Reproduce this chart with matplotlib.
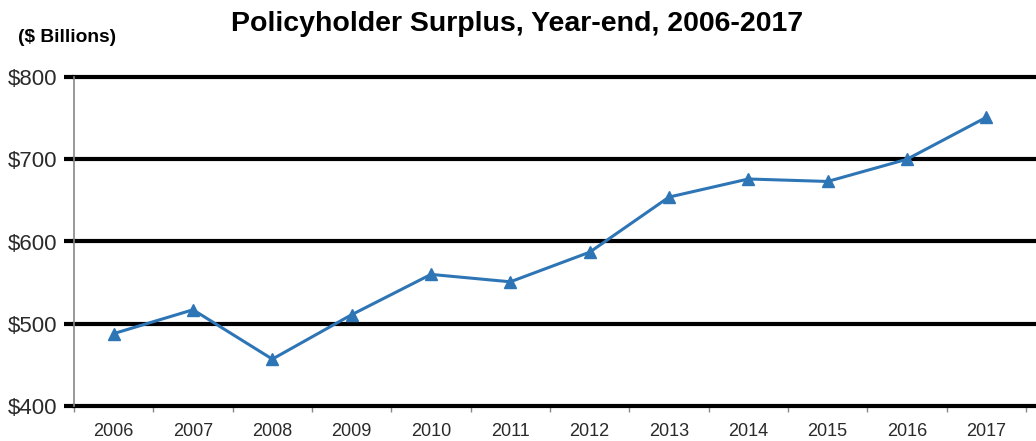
import matplotlib
matplotlib.use("Agg")
import matplotlib.pyplot as plt

years = ["2006", "2007", "2008", "2009", "2010", "2011", "2012", "2013", "2014", "2015", "2016", "2017"]
surplus = [488, 517, 457, 511, 560, 551, 587, 654, 676, 673, 700, 751]
yticks = [400, 500, 600, 700, 800]
ylabels = ["$400", "$500", "$600", "$700", "$800"]

plt.rcParams['font.family'] = ['Liberation Sans', 'DejaVu Sans']

fig = plt.figure(figsize=(10.36, 4.41), dpi=100)
ax = fig.add_axes([74/1036, 1-406/441, 1-74/1036, (406-77)/441])

x = list(range(len(years)))
ax.plot(x, surplus, color="#2E75B6", lw=2.2, marker="^", ms=8, zorder=3)

ax.set_ylim(400, 800)
ax.set_xlim(-0.5, 11.5 + 10/79.3)
for v in yticks:
    ax.axhline(v, color="black", lw=3, zorder=2, clip_on=False)
ax.set_yticks(yticks)
ax.set_yticklabels(ylabels, fontsize=16, color="#2a2a2a")
ax.tick_params(axis="y", length=7, width=3, color="black", pad=5)

ax.set_xticks(x)
ax.set_xticklabels(years, fontsize=13, color="#2a2a2a")
ax.tick_params(axis="x", length=0, pad=12)
ax.set_xticks([i + 0.5 for i in range(-1, 12)], minor=True)
ax.tick_params(axis="x", which="minor", length=4, width=1, color="#888888")

for s in ["top", "right", "bottom"]:
    ax.spines[s].set_visible(False)
ax.spines["left"].set_color("#888888")
ax.spines["left"].set_linewidth(1.2)

fig.text(517/1036, 1-24/441, "Policyholder Surplus, Year-end, 2006-2017",
         ha="center", va="center", fontsize=20.5, fontweight="bold", color="black")
fig.text(18/1036, 1-38/441, "($ Billions)", ha="left", va="center",
         fontsize=13.8, fontweight="bold", color="black")

fig.savefig("out.png", dpi=100)
